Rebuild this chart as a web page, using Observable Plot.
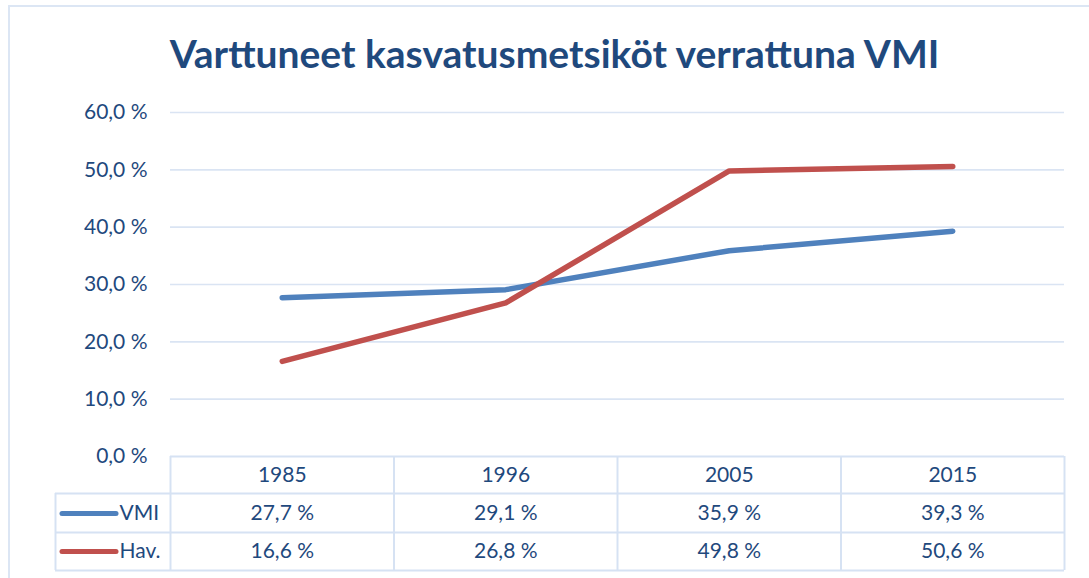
<!DOCTYPE html>
<html>
<head>
<meta charset="utf-8">
<script src="https://cdn.jsdelivr.net/npm/d3@7"></script>
<script src="https://cdn.jsdelivr.net/npm/@observablehq/plot@0.6"></script>
<style>
  html, body { margin: 0; padding: 0; background: #fff; }
  #wrap { position: relative; width: 1089px; height: 578px; overflow: hidden; }
  #border { position: absolute; left: 8px; top: 5px; width: 1200px; height: 700px;
            border-top: 2px solid #DCE6F4; border-left: 2px solid #DCE6F4; pointer-events: none; }
</style>
</head>
<body>
<div id="wrap"><div id="border"></div></div>
<script>
const titleText = "Varttuneet kasvatusmetsiköt verrattuna VMI";
const years = ["1985", "1996", "2005", "2015"];
const vmiValues = [27.7, 29.1, 35.9, 39.3];
const havValues = [16.6, 26.8, 49.8, 50.6];
const seriesNames = ["VMI", "Hav."];
const seriesColors = ["#4F81BD", "#C0504D"];
const yTicks = [0, 10, 20, 30, 40, 50, 60];

const rows = years.flatMap((yr, i) => [
  {i, year: yr, series: "VMI", value: vmiValues[i]},
  {i, year: yr, series: "Hav.", value: havValues[i]}
]);

const fmt = v => v.toFixed(1).replace(".", ",") + " %";

// layout
const W = 1089, H = 578;
const mL = 170, mR = 25, mT = 112, mB = 122;
const frameW = W - mL - mR, frameH = H - mT - mB;
const colW = frameW / years.length;
const k = 60 / frameH;                       // y units per px
const px2x = px => (px - mL) / colW - 0.5;  // px -> x units
const textColor = "#1F497D";
const gridColor = "#DAE4F3";
const tableColor = "#D6E2F3";
const rowBottoms = [37, 76, 114];            // px below y=0
const rowCenters = [19, 57, 95];
const fs = 21;

const marks = [
  Plot.ruleY(yTicks.filter(d => d > 0), {stroke: gridColor, strokeWidth: 1.6}),
  // table lines
  Plot.ruleY([0], {x1: -0.5, x2: years.length - 0.5, stroke: tableColor, strokeWidth: 2}),
  Plot.ruleY(rowBottoms.map(p => -p * k), {x1: px2x(55), x2: years.length - 0.5, stroke: tableColor, strokeWidth: 2}),
  Plot.ruleX(d3.range(years.length + 1).map(j => j - 0.5), {y1: 0, y2: -rowBottoms[2] * k, stroke: tableColor, strokeWidth: 2}),
  Plot.ruleX([px2x(55)], {y1: -rowBottoms[0] * k, y2: -rowBottoms[2] * k, stroke: tableColor, strokeWidth: 2}),
  // lines
  Plot.line(rows, {x: "i", y: "value", z: "series", stroke: "series", strokeWidth: 5.5,
                   strokeLinecap: "round", strokeLinejoin: "round"}),
  // header row
  Plot.text(years, {x: (d, i) => i, y: () => 0, dy: rowCenters[0], text: d => d, fontSize: fs}),
  // value rows and legend
  ...seriesNames.flatMap((s, r) => [
    Plot.text(rows.filter(d => d.series === s), {x: "i", y: () => 0, dy: rowCenters[r + 1],
              text: d => fmt(d.value), fontSize: fs}),
    Plot.ruleY([0], {x1: px2x(62), x2: px2x(116), dy: rowCenters[r + 1], stroke: seriesColors[r],
              strokeWidth: 5, strokeLinecap: "round"}),
    Plot.text([s], {x: px2x(119), y: () => 0, dy: rowCenters[r + 1], text: d => d,
              textAnchor: "start", fontSize: fs})
  ]),
  Plot.axisY({ticks: yTicks, tickFormat: fmt, tickSize: 0, tickPadding: 23, fontSize: fs, label: null}),
  Plot.text([titleText], {frameAnchor: "top", lineAnchor: "middle", dy: -57, dx: -63, text: d => d,
            fontSize: 39, fontWeight: "bold", fill: textColor})
];

const chart = Plot.plot({
  width: W, height: H,
  marginLeft: mL, marginRight: mR, marginTop: mT, marginBottom: mB,
  style: {fontFamily: "Lato, 'Open Sans', sans-serif", fontSize: fs + "px", color: textColor, background: "transparent"},
  x: {domain: [-0.5, years.length - 0.5], axis: null},
  y: {domain: [0, 60]},
  color: {domain: seriesNames, range: seriesColors},
  marks
});
document.getElementById("wrap").prepend(chart);
</script>
</body>
</html>
